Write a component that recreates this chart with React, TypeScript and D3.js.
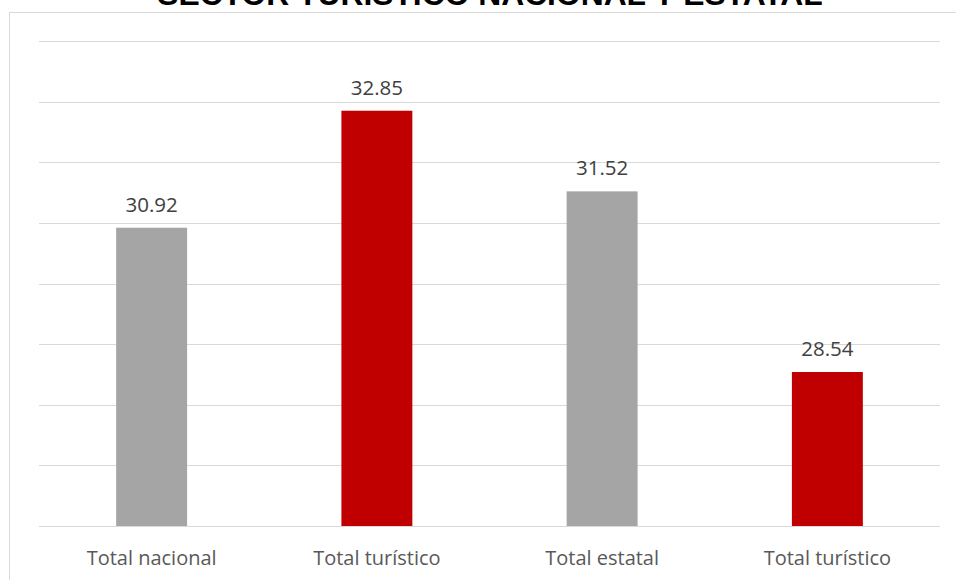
import React from "react";
import * as d3 from "d3";

const categories = ["Total nacional", "Total turístico", "Total estatal", "Total turístico "];
const values = [30.92, 32.85, 31.52, 28.54];
const barColors = ["#A5A5A5", "#C00000", "#A5A5A5", "#C00000"];
const yTicks = [26, 27, 28, 29, 30, 31, 32, 33, 34];
const title = "SECTOR TURÍSTICO NACIONAL Y ESTATAL";

const W = 956;
const H = 580;
const plot = { left: 39, right: 940, top: 41, bottom: 526 };

export default function App() {
  const x = d3
    .scaleBand<string>()
    .domain(categories)
    .range([plot.left, plot.right])
    .paddingInner(0.685)
    .paddingOuter(0.3425);
  const y = d3.scaleLinear().domain([26, 34]).range([plot.bottom, plot.top]);
  const font = "'Open Sans', 'Noto Sans', sans-serif";

  return (
    <svg
      width={W}
      height={H}
      style={{ position: "absolute", left: 0, top: 0, background: "#fff" }}
    >
      <rect x={0} y={0} width={W} height={H} fill="#fff" />
      <rect x={9.5} y={12.5} width={980} height={600} fill="none" stroke="#D9D9D9" strokeWidth={1} />
      <text
        x={490}
        y={5}
        textAnchor="middle"
        fontFamily="'Liberation Sans', Arial, sans-serif"
        fontWeight="bold"
        fontSize={31.8}
        fill="#000"
      >
        {title}
      </text>
      {yTicks.map((t) => (
        <line
          key={t}
          x1={plot.left}
          x2={plot.right}
          y1={Math.round(y(t)) + 0.5}
          y2={Math.round(y(t)) + 0.5}
          stroke="#D9D9D9"
          strokeWidth={1.2}
        />
      ))}
      {categories.map((c, i) => (
        <g key={c}>
          <rect
            x={x(c)}
            y={y(values[i])}
            width={x.bandwidth()}
            height={plot.bottom - y(values[i])}
            fill={barColors[i]}
          />
          <text
            x={(x(c) as number) + x.bandwidth() / 2}
            y={y(values[i]) - 16}
            textAnchor="middle"
            fontFamily={font}
            fontSize={20.5}
            fill="#404040"
          >
            {values[i].toFixed(2)}
          </text>
          <text
            x={(x(c) as number) + x.bandwidth() / 2}
            y={565}
            textAnchor="middle"
            fontFamily={font}
            fontSize={20}
            fill="#595959"
          >
            {c.trim()}
          </text>
        </g>
      ))}
    </svg>
  );
}
